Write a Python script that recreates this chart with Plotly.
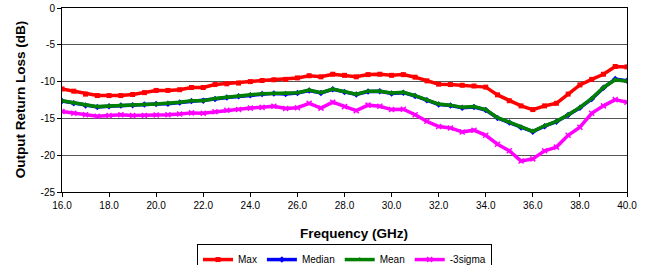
import plotly.graph_objects as go

freq = [16.0, 16.5, 17.0, 17.5, 18.0, 18.5, 19.0, 19.5, 20.0, 20.5, 21.0, 21.5, 22.0, 22.5,
        23.0, 23.5, 24.0, 24.5, 25.0, 25.5, 26.0, 26.5, 27.0, 27.5, 28.0, 28.5, 29.0, 29.5,
        30.0, 30.5, 31.0, 31.5, 32.0, 32.5, 33.0, 33.5, 34.0, 34.5, 35.0, 35.5, 36.0, 36.5,
        37.0, 37.5, 38.0, 38.5, 39.0, 39.5, 40.0]

max_db = [-11.0, -11.3, -11.7, -11.9, -11.9, -11.9, -11.75, -11.5, -11.2, -11.2, -11.1, -10.8, -10.8, -10.4,
          -10.3, -10.2, -10.0, -9.85, -9.75, -9.7, -9.5, -9.2, -9.35, -9.0, -9.15, -9.35, -9.05, -9.0,
          -9.15, -9.05, -9.4, -9.9, -10.35, -10.4, -10.5, -10.6, -10.75, -11.8, -12.6, -13.3, -13.8, -13.3,
          -12.95, -11.7, -10.45, -9.7, -9.0, -7.95, -8.0]

median_db = [-12.65, -12.95, -13.25, -13.45, -13.35, -13.25, -13.2, -13.1, -13.05, -13.0, -12.85, -12.65, -12.6, -12.35,
             -12.15, -12.0, -11.85, -11.7, -11.6, -11.7, -11.55, -11.2, -11.55, -11.05, -11.4, -11.75, -11.35, -11.3,
             -11.6, -11.5, -11.95, -12.55, -13.1, -13.25, -13.55, -13.45, -13.85, -14.95, -15.55, -16.25, -16.8, -16.05,
             -15.45, -14.55, -13.55, -12.35, -10.85, -9.65, -9.9]

mean_db = [-12.6, -12.9, -13.2, -13.4, -13.3, -13.2, -13.15, -13.1, -13.05, -12.95, -12.8, -12.6, -12.6, -12.3,
           -12.1, -11.95, -11.8, -11.65, -11.6, -11.65, -11.5, -11.15, -11.5, -11.0, -11.35, -11.7, -11.3, -11.3,
           -11.55, -11.45, -11.9, -12.5, -13.05, -13.2, -13.5, -13.4, -13.8, -14.9, -15.5, -16.2, -16.75, -16.0,
           -15.4, -14.5, -13.5, -12.3, -10.8, -9.75, -9.95]

sigma3_db = [-14.05, -14.3, -14.5, -14.7, -14.6, -14.5, -14.6, -14.6, -14.55, -14.5, -14.4, -14.25, -14.3, -14.1,
             -13.9, -13.8, -13.6, -13.5, -13.35, -13.65, -13.55, -12.95, -13.6, -12.8, -13.4, -13.95, -13.2, -13.35,
             -13.8, -13.75, -14.5, -15.4, -16.1, -16.3, -16.85, -16.6, -17.3, -18.5, -19.4, -20.8, -20.5, -19.4,
             -18.9, -17.3, -16.2, -14.3, -13.3, -12.45, -12.8]

x_ticks = [16, 18, 20, 22, 24, 26, 28, 30, 32, 34, 36, 38, 40]
x_tick_labels = ["16.0", "18.0", "20.0", "22.0", "24.0", "26.0", "28.0", "30.0", "32.0", "34.0", "36.0", "38.0", "40.0"]
y_ticks = [0, -5, -10, -15, -20, -25]
y_tick_labels = ["0", "-5", "-10", "-15", "-20", "-25"]

FONT = "Liberation Sans, Arial, sans-serif"

series = [
    ("Max", max_db, "#FF0000", "square", 5),
    ("Median", median_db, "#0000FF", "diamond", 5),
    ("Mean", mean_db, "#008000", "triangle-up", 5),
    ("-3sigma", sigma3_db, "#FF00FF", "x-thin", 5),
]

fig = go.Figure()
for name, vals, color, sym, size in series:
    marker = dict(symbol=sym, size=size, color=color)
    if sym == "x-thin":
        marker["line"] = dict(color=color, width=1.5)
    fig.add_trace(go.Scatter(
        x=freq, y=vals, name=name, mode="lines+markers",
        line=dict(color=color, width=3.5),
        marker=marker,
    ))

fig.update_layout(
    width=648, height=265,
    margin=dict(l=62, r=21, t=8, b=73, autoexpand=False),
    paper_bgcolor="white", plot_bgcolor="white",
    font=dict(family=FONT, size=10, color="black"),
    showlegend=True,
    legend=dict(
        orientation="h", x=0.5, xanchor="center", y=-0.283, yanchor="top",
        bordercolor="black", borderwidth=1, font=dict(size=10),
        itemwidth=30, tracegroupgap=0,
    ),
    xaxis=dict(
        range=[16, 40], tickmode="array", tickvals=x_ticks, ticktext=x_tick_labels,
        showgrid=False, zeroline=False, showline=True, linecolor="black", linewidth=1,
        mirror=True, ticks="outside", ticklen=4, tickcolor="black",
        tickfont=dict(size=10), automargin=False,
    ),
    yaxis=dict(
        range=[-25, 0], tickmode="array", tickvals=y_ticks, ticktext=y_tick_labels,
        showgrid=True, gridcolor="#555555", gridwidth=1, zeroline=False,
        showline=True, linecolor="black", linewidth=1, mirror=True,
        ticks="outside", ticklen=4, tickcolor="black", tickfont=dict(size=10),
        automargin=False,
    ),
    annotations=[
        dict(text="<b>Frequency (GHz)</b>", xref="paper", yref="paper",
             x=0.517, y=-0.2245, xanchor="center", yanchor="middle", showarrow=False,
             font=dict(size=13.5)),
        dict(text="<b>Output Return Loss (dB)</b>", xref="paper", yref="paper",
             x=-0.074, y=0.5, xanchor="center", yanchor="middle", showarrow=False,
             textangle=-90, font=dict(size=13.5)),
    ],
)

fig.write_html("out.html", config={"displayModeBar": False},
               post_script="document.body.style.margin='0';")
